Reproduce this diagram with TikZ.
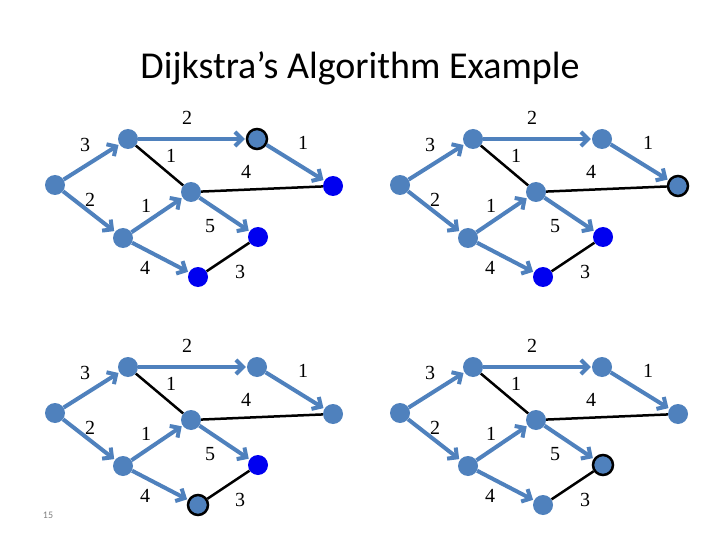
\documentclass[tikz,border=0pt]{standalone}
\usepackage{fontspec}
\setmainfont{Liberation Serif}
\newfontfamily\titlefont{Carlito}
\usetikzlibrary{arrows.meta}
\definecolor{nb}{RGB}{79,129,189}
\definecolor{vb}{RGB}{0,0,240}
\tikzset{
 vtx/.style={ellipse,fill=nb,minimum width=20pt,minimum height=18pt,inner sep=0},
 ellipse/.style={circle},
 done/.style={vtx},
 cur/.style={vtx,draw=black,line width=2.5pt},
 fresh/.style={vtx,fill=vb},
 arr/.style={draw=nb,line width=4pt,-{Straight Barb[length=7pt,width=14pt]},shorten >=1pt},
 blk/.style={draw=black,line width=2.5pt},
 wt/.style={font=\fontsize{20}{20}\selectfont}
}
\newcommand\graphpanel[7]{%
 \begin{scope}[shift={(#1,#2)}]
 \node[done] (#3a) at (55,185) {};
 \node[done] (#3b) at (128,139) {};
 \node[#4] (#3c) at (257,139) {};
 \node[#5] (#3d) at (333,186) {};
 \node[done] (#3e) at (191,192) {};
 \node[done] (#3f) at (123,238) {};
 \node[#6] (#3g) at (258,237) {};
 \node[#7] (#3h) at (198,277) {};
 \draw[arr] (#3a) -- (#3b);
 \draw[arr] (#3a) -- (#3f);
 \draw[arr] (#3b) -- (#3c);
 \draw[arr] (#3c) -- (#3d);
 \draw[arr] (#3f) -- (#3e);
 \draw[arr] (#3e) -- (#3g);
 \draw[arr] (#3f) -- (#3h);
 \draw[blk] (#3b) -- (#3e);
 \draw[blk] (#3e) -- (#3d);
 \draw[blk] (#3h) -- (#3g);
 \node[wt] (#3l1) at (85,145) {3};
 \node[wt] (#3l2) at (187,118) {2};
 \node[wt] (#3l3) at (171,156) {1};
 \node[wt] (#3l4) at (303,143) {1};
 \node[wt] (#3l5) at (246,172) {4};
 \node[wt] (#3l6) at (90,200) {2};
 \node[wt] (#3l7) at (146,206) {1};
 \node[wt] (#3l8) at (210,226) {5};
 \node[wt] (#3l9) at (145,268) {4};
 \node[wt] (#3l10) at (240,272) {3};
 \end{scope}}
\begin{document}
\begin{tikzpicture}[x=1pt,y=-1pt]
\useasboundingbox[fill=white] (0,0) rectangle (720,540);
\node[font=\titlefont\fontsize{38}{38}\selectfont] (title) at (360,68) {Dijkstra’s Algorithm Example};
\graphpanel{0}{0}{p}{cur}{fresh}{fresh}{fresh}
\graphpanel{345}{0}{q}{done}{cur}{fresh}{fresh}
\graphpanel{0}{228}{r}{done}{done}{fresh}{cur}
\graphpanel{345}{228}{s}{done}{done}{cur}{done}
\node[font=\titlefont\fontsize{10}{10}\selectfont,text=gray] (num) at (48,515) {15};
\end{tikzpicture}
\end{document}
